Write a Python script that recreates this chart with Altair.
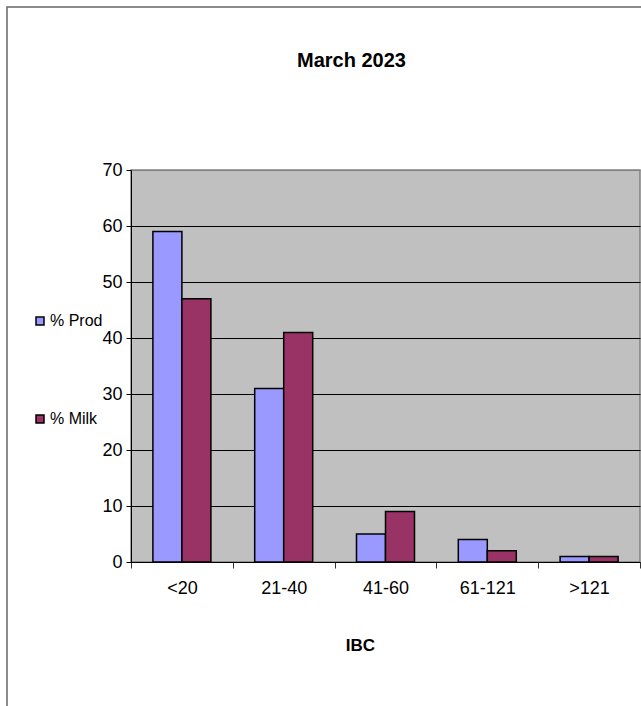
import altair as alt
import pandas as pd

categories = ["<20", "21-40", "41-60", "61-121", ">121"]
prod = [59, 31, 5, 4, 1]
milk = [47, 41, 9, 2, 1]
series = ["% Prod", "% Milk"]
colors = ["#9999FF", "#993366"]
y_ticks = [0, 10, 20, 30, 40, 50, 60, 70]

rows = []
for c, p, m in zip(categories, prod, milk):
    rows.append({"IBC": c, "series": "% Prod", "value": p})
    rows.append({"IBC": c, "series": "% Milk", "value": m})
df = pd.DataFrame(rows)

FONT = "Liberation Sans Narrow, Liberation Sans, Arial"

bars = alt.Chart(df).mark_bar(stroke="black", strokeWidth=1.5, opacity=1).encode(
    x=alt.X(
        "IBC:N",
        sort=categories,
        scale=alt.Scale(paddingInner=0, paddingOuter=0),
        axis=alt.Axis(
            title="IBC",
            titleFont=FONT,
            titleFontSize=17,
            titleFontWeight="bold",
            titleColor="black",
            titleX=229,
            titleY=83,
            titleAlign="center",
            titleBaseline="middle",
            labelFont=FONT,
            labelFontSize=18,
            labelColor="black",
            labelAngle=0,
            labelPadding=11,
            tickBand="extent",
            tickSize=6,
            tickColor="#333333",
            domainColor="black",
            domainWidth=1,
            grid=False,
        ),
    ),
    xOffset=alt.XOffset(
        "series:N",
        sort=series,
        scale=alt.Scale(paddingInner=0, paddingOuter=0.755),
    ),
    y=alt.Y(
        "value:Q",
        scale=alt.Scale(domain=[0, 70], nice=False),
        axis=alt.Axis(
            title=None,
            values=y_ticks,
            labelFont=FONT,
            labelFontSize=18,
            labelColor="black",
            labelPadding=4,
            tickSize=5,
            tickColor="black",
            domainColor="black",
            grid=True,
            gridColor=alt.condition(alt.datum.value == 70, alt.value("#808080"), alt.value("black")),
            gridWidth=1,
            gridOpacity=1,
        ),
    ),
    fill=alt.Fill(
        "series:N",
        sort=series,
        scale=alt.Scale(domain=series, range=colors),
        legend=alt.Legend(
            title=None,
            orient="none",
            legendX=-99,
            legendY=143,
            symbolType="square",
            symbolSize=64,
            symbolStrokeColor="black",
            symbolStrokeWidth=1.5,
            symbolOpacity=1,
            labelFont=FONT,
            labelFontSize=16,
            labelColor="black",
            labelOffset=2,
            rowPadding=82,
        ),
    ),
)

border = alt.Chart(pd.DataFrame({"a": [0]})).mark_rect(
    fill="transparent", stroke="#666666", strokeWidth=1.5
).encode(
    x=alt.value(-124),
    x2=alt.value(530),
    y=alt.value(-163),
    y2=alt.value(560),
)

chart = alt.layer(border, bars).properties(
    width=509,
    height=392,
    background="white",
    title=alt.TitleParams(
        "March 2023",
        font=FONT,
        fontSize=20,
        fontWeight="bold",
        color="black",
        anchor="middle",
        dx=-34,
        offset=-65,
    ),
    autosize=alt.AutoSizeParams(type="none"),
    padding={"left": 131, "top": 170, "right": 1, "bottom": 144},
).configure_view(
    fill="#C0C0C0", stroke="#808080", strokeWidth=1.5
)

chart.save("out.html", embed_options={"renderer": "svg", "actions": False})
